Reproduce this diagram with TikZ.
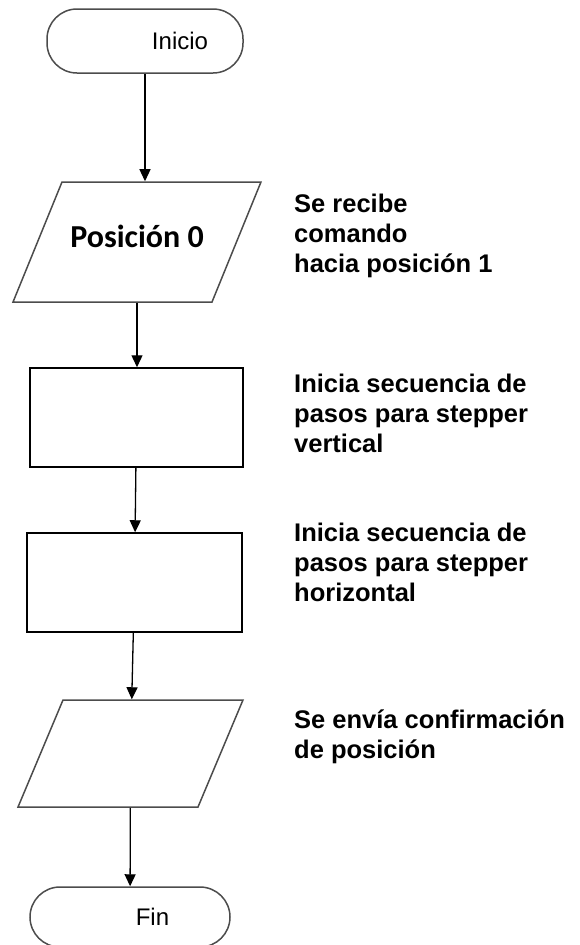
\documentclass[tikz,border=0pt]{standalone}
\usepackage{fontspec}
\setmainfont{Liberation Sans}
\newfontfamily\calibrifont{Carlito}
\usetikzlibrary{shapes,arrows.meta,positioning}

\begin{document}
\begin{tikzpicture}[
    x=1pt, y=-1pt,
    term/.style={rectangle, draw=black!70, line width=1.5pt, rounded corners=30pt, minimum width=196pt, minimum height=64pt, inner sep=0pt, font=\fontsize{24}{28}\selectfont},
    io/.style={trapezium, trapezium left angle=#1, trapezium right angle=180-#1, draw=black!70, line width=1.5pt},
    io/.default=68,
    proc/.style={rectangle, draw=black, line width=1.5pt, minimum height=99pt, inner sep=0pt},
    note/.style={anchor=north west, align=left, inner sep=0pt, font=\fontsize{25.5}{30}\selectfont\bfseries},
    arrow/.style={-{Triangle[length=12pt,width=11pt]}, line width=1.3pt}
]
    \useasboundingbox (0,0) rectangle (579,945);

    % Flow — top to bottom
    \node[term]                           (inicio) at (145,41)      {\hspace*{70pt}Inicio};
    \node[io=67.8, inner xsep=75pt, inner ysep=60pt,
          label={[yshift=6pt, inner sep=0pt, font=\fontsize{32}{36}\selectfont\calibrifont\bfseries]center:Posición 0}]
                                          (pos0)   at (137,242)     {};
    \node[proc, minimum width=213pt]      (vert)   at (136.5,417.5) {};
    \node[proc, minimum width=215pt]      (horz)   at (134.5,582.5) {};
    \node[io=67.2, inner xsep=67.5pt, inner ysep=53.5pt]
                                          (envio)  at (130.5,753.5) {};
    \node[term, minimum width=200pt, minimum height=60pt]
                                          (fin)    at (130,917)     {\hspace*{45pt}Fin};

    % Notes on the right
    \node[note] (n1) at (294,193.4) {Se recibe\\comando\\hacia posición 1};
    \node[note] (n2) at (294,373.4) {Inicia secuencia de\\pasos para stepper\\vertical};
    \node[note] (n3) at (294,523)   {Inicia secuencia de\\pasos para stepper\\horizontal};
    \node[note] (n4) at (294,709.4) {Se envía confirmación\\de posición};

    % Arrows
    \draw[arrow] (inicio.south) -- (inicio.south |- pos0.north);
    \draw[arrow] (pos0.south)   -- (pos0.south |- vert.north);
    \draw[arrow] (vert)  -- (horz);
    \draw[arrow] (horz)  -- (envio);
    \draw[arrow] (envio) -- (fin);

\end{tikzpicture}
\end{document}
